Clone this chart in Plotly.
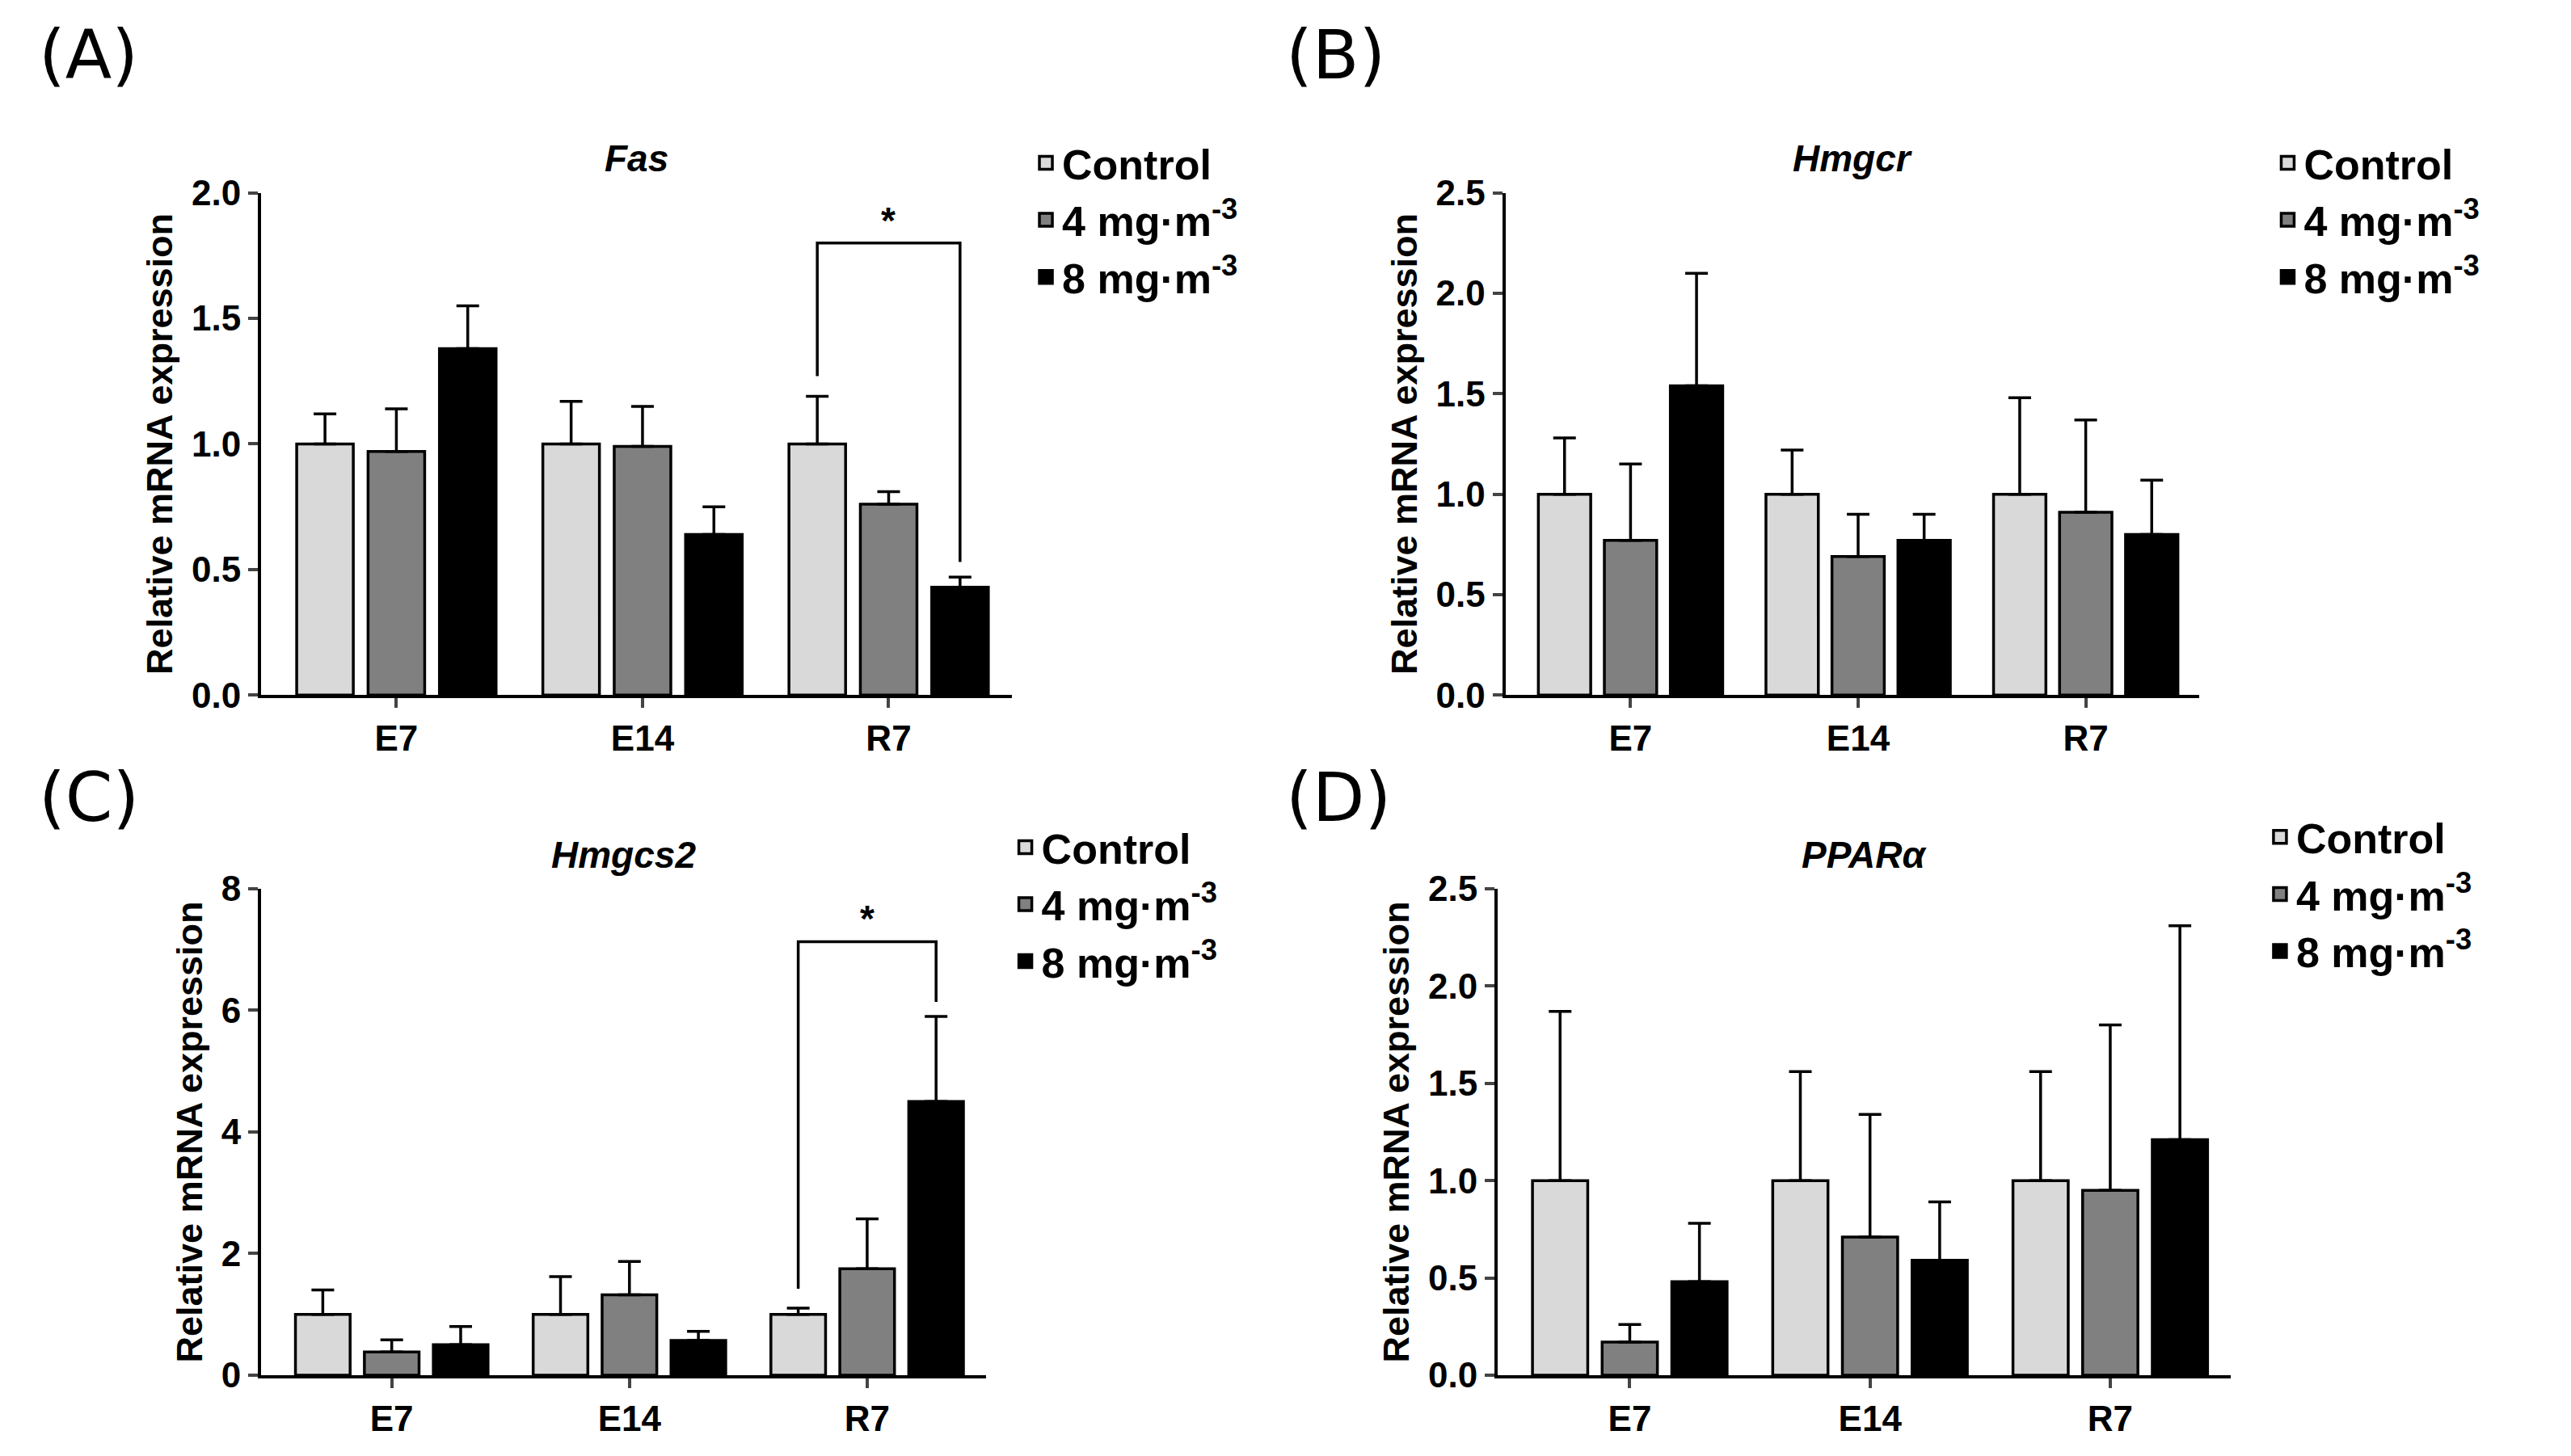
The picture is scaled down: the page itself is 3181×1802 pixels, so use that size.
import plotly.graph_objects as go

groups = ["E7", "E14", "R7"]
series = ["Control", "4 mg·m<sup>-3</sup>", "8 mg·m<sup>-3</sup>"]
colors = ["#d9d9d9", "#808080", "#000000"]

genes = ["Fas", "Hmgcr", "Hmgcs2", "PPARα"]
letters = ["(A)", "(B)", "(C)", "(D)"]

# means[series][group], errs[series][group]
fas_mean = [[1.0, 1.0, 1.0], [0.97, 0.99, 0.76], [1.38, 0.64, 0.43]]
fas_err = [[0.12, 0.17, 0.19], [0.17, 0.16, 0.05], [0.17, 0.11, 0.04]]
hmgcr_mean = [[1.0, 1.0, 1.0], [0.77, 0.69, 0.91], [1.54, 0.77, 0.80]]
hmgcr_err = [[0.28, 0.22, 0.48], [0.38, 0.21, 0.46], [0.56, 0.13, 0.27]]
hmgcs2_mean = [[1.0, 1.0, 1.0], [0.38, 1.32, 1.75], [0.50, 0.57, 4.50]]
hmgcs2_err = [[0.40, 0.62, 0.10], [0.20, 0.55, 0.82], [0.30, 0.15, 1.40]]
ppar_mean = [[1.0, 1.0, 1.0], [0.17, 0.71, 0.95], [0.48, 0.59, 1.21]]
ppar_err = [[0.87, 0.56, 0.56], [0.09, 0.63, 0.85], [0.30, 0.30, 1.10]]

means = [fas_mean, hmgcr_mean, hmgcs2_mean, ppar_mean]
errs = [fas_err, hmgcr_err, hmgcs2_err, ppar_err]
yranges = [[0, 2.0], [0, 2.5], [0, 8], [0, 2.5]]
ydticks = [0.5, 0.5, 2, 0.5]
ytickfmt = [".1f", ".1f", "d", ".1f"]
# significance: (panel, group, series a, series b, bracket height)
sig = [(0, 2, 0, 2, 1.80), (2, 2, 0, 2, 7.13)]

xdom = [[0.099, 0.391], [0.583, 0.853], [0.099, 0.381], [0.580, 0.865]]
ydom = [[0.527, 0.872], [0.527, 0.872], [0.060, 0.394], [0.060, 0.394]]
legpos = [(0.398, 0.915), (0.881, 0.915), (0.390, 0.445), (0.878, 0.452)]
labpos = [(0.012, 0.995), (0.497, 0.995), (0.012, 0.485), (0.497, 0.485)]

offsets = [-0.29, 0.0, 0.29]
FONT = "Liberation Sans"

fig = go.Figure()
layout = {}
annotations = []
for p in range(4):
    ax = "" if p == 0 else str(p + 1)
    leg = "legend" if p == 0 else "legend" + str(p + 1)
    for s in range(3):
        fig.add_trace(go.Bar(
            x=[g + offsets[s] for g in range(3)], y=means[p][s], width=0.23,
            name=series[s], marker=dict(color=colors[s], line=dict(color="black", width=3.5)),
            error_y=dict(type="data", symmetric=False, array=errs[p][s], arrayminus=[0, 0, 0],
                         color="black", thickness=3.5, width=14),
            xaxis="x" + ax, yaxis="y" + ax, showlegend=False))
        # legend swatch
        fig.add_trace(go.Scatter(
            x=[None], y=[None], mode="markers", name=series[s],
            marker=dict(symbol="square", size=40, color=colors[s], line=dict(color="black", width=3.5)),
            xaxis="x" + ax, yaxis="y" + ax, legend=leg))
    layout["xaxis" + ax] = dict(
        domain=xdom[p], range=[-0.55, 2.5], tickvals=[0, 1, 2], ticktext=groups,
        showline=True, linecolor="black", linewidth=4, ticks="outside", ticklen=12,
        tickwidth=4, tickfont=dict(size=44, family=FONT, color="black", weight="bold"),
        anchor="y" + ax, showgrid=False, zeroline=False, automargin=False)
    layout["yaxis" + ax] = dict(
        domain=ydom[p], range=yranges[p], dtick=ydticks[p], tickformat=ytickfmt[p],
        showline=True, linecolor="black", linewidth=4, ticks="outside", ticklen=12,
        tickwidth=4, tickfont=dict(size=44, family=FONT, color="black", weight="bold"),
        title=dict(text="<b>Relative mRNA expression</b>", font=dict(size=45, family=FONT, color="black"), standoff=10),
        anchor="x" + ax, showgrid=False, zeroline=False, automargin=False)
    layout[leg] = dict(x=legpos[p][0], y=legpos[p][1], xanchor="left", yanchor="top",
                       font=dict(size=52, family=FONT, color="black", weight="bold"),
                       bgcolor="rgba(0,0,0,0)", tracegroupgap=6)
    annotations.append(dict(text="<b><i>%s</i></b>" % genes[p], x=sum(xdom[p]) / 2, y=ydom[p][1] + 0.008,
                            xref="paper", yref="paper", xanchor="center", yanchor="bottom",
                            showarrow=False, font=dict(size=46, family=FONT, color="black")))
    annotations.append(dict(text=letters[p], x=labpos[p][0], y=labpos[p][1], xref="paper", yref="paper",
                            xanchor="left", yanchor="top", showarrow=False,
                            font=dict(size=84, family="DejaVu Sans", color="black")))

for p, g, a, b, h in sig:
    ax = "" if p == 0 else str(p + 1)
    xa, xb = g + offsets[a], g + offsets[b]
    ya = means[p][a][g] + errs[p][a][g] + 0.04 * yranges[p][1]
    yb = means[p][b][g] + errs[p][b][g] + 0.03 * yranges[p][1]
    fig.add_trace(go.Scatter(x=[xa, xa, xb, xb], y=[ya, h, h, yb], mode="lines",
                             line=dict(color="black", width=3.5), showlegend=False,
                             xaxis="x" + ax, yaxis="y" + ax))
    annotations.append(dict(text="<b>*</b>", x=(xa + xb) / 2, y=h, xref="x" + ax, yref="y" + ax,
                            yanchor="bottom", showarrow=False, font=dict(size=46, family=FONT, color="black")))

fig.update_layout(**layout)
fig.update_layout(width=3181, height=1802, plot_bgcolor="white", paper_bgcolor="white",
                  barmode="overlay", annotations=annotations, margin=dict(l=0, r=0, t=0, b=0))
fig.write_html("out.html")
